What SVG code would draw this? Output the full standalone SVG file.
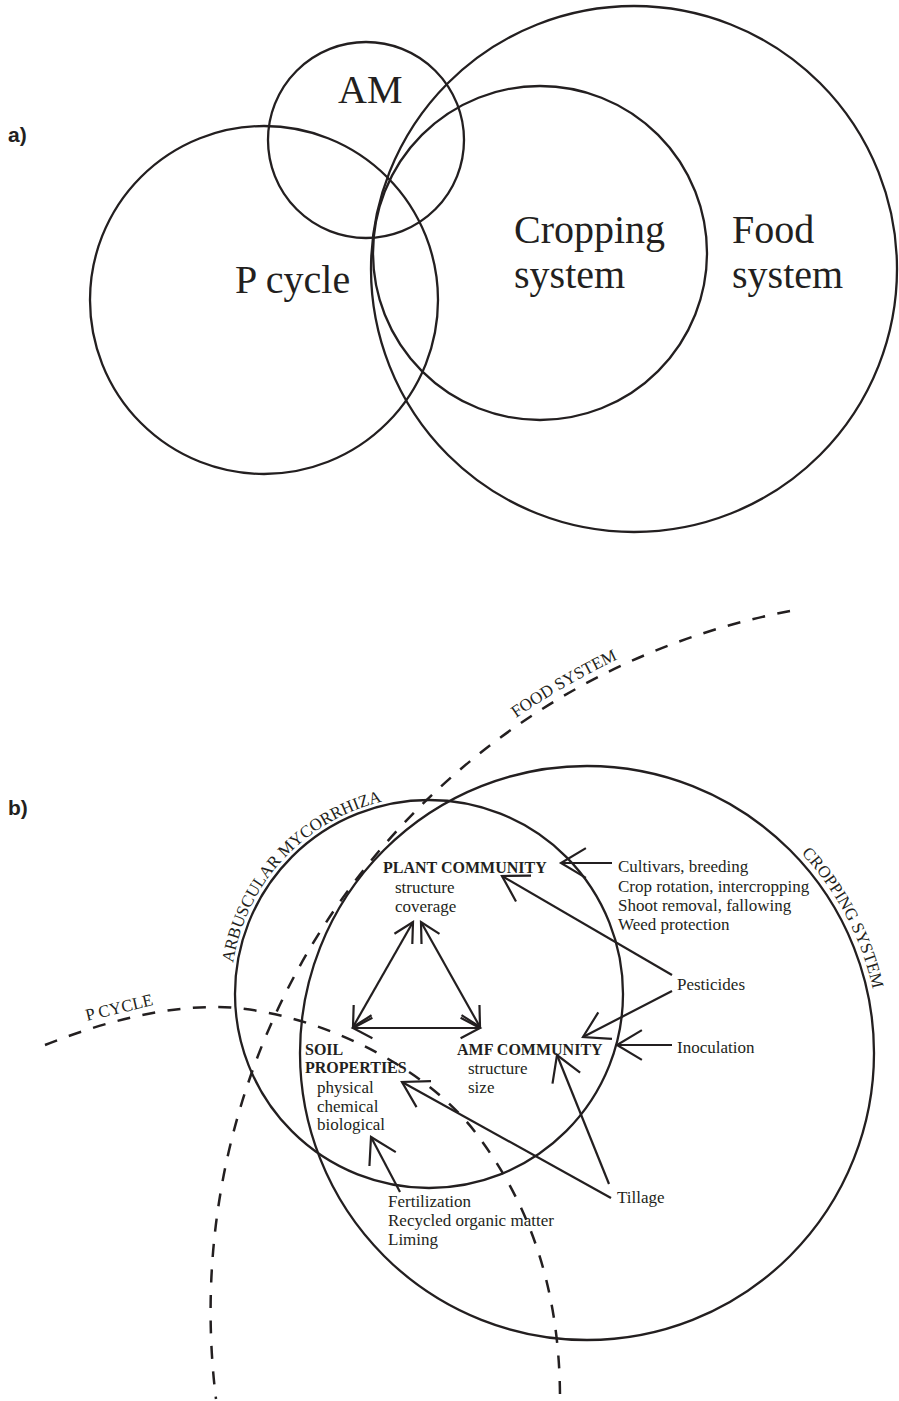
<svg xmlns="http://www.w3.org/2000/svg" width="899" height="1401" viewBox="0 0 899 1401">
<style>
.c{fill:none;stroke:#231f20;stroke-width:2.3}
.d{fill:none;stroke:#231f20;stroke-width:2.5;stroke-dasharray:13 12.5}
.t{font-family:"Liberation Serif","Times New Roman",serif;fill:#231f20}
.big{font-size:40px}
.s{font-size:17px}
.b{font-size:16px;font-weight:bold}
.lab{font-family:"Liberation Sans",Arial,sans-serif;font-weight:bold;font-size:21px;fill:#231f20}
.a{fill:none;stroke:#231f20;stroke-width:2.2}
.tri{marker-start:url(#hs);marker-end:url(#hs)}
.ext{marker-end:url(#hb)}
</style>
<defs>
<marker id="hs" markerUnits="userSpaceOnUse" orient="auto-start-reverse" markerWidth="30" markerHeight="30" refX="0" refY="0" viewBox="-25 -15 30 30" overflow="visible">
<path d="M-19.4,-10.3 L0,0 L-19.4,10.3" fill="none" stroke="#231f20" stroke-width="2.2"/>
</marker>
<marker id="hb" markerUnits="userSpaceOnUse" orient="auto" markerWidth="34" markerHeight="34" refX="0" refY="0" viewBox="-30 -17 34 34" overflow="visible">
<path d="M-24.9,-14.9 L0,0 L-24.9,14.9" fill="none" stroke="#231f20" stroke-width="2.2"/>
</marker>
<path id="pAM" d="M233,963 A198,198 0 0 1 401.4,797.9"/>
<path id="pCS" d="M801.3,853.2 A293,293 0 0 1 877.1,1012.2"/>
<path id="pFS" d="M516,718 A720,720 0 0 1 802,601"/>
</defs>

<!-- Part a -->
<g id="label-a"><text class="lab" x="8" y="142">a)</text></g>
<g id="a-am"><circle class="c" cx="366" cy="140" r="98"/><text class="t big" x="338" y="103">AM</text></g>
<g id="a-pcycle"><circle class="c" cx="264" cy="300" r="174"/><text class="t big" x="235" y="293">P cycle</text></g>
<g id="a-cropping"><circle class="c" cx="540" cy="253" r="167"/><text class="t big" x="514" y="243">Cropping</text><text class="t big" x="514" y="288">system</text></g>
<g id="a-food"><circle class="c" cx="634" cy="269" r="263"/><text class="t big" x="732" y="243">Food</text><text class="t big" x="732" y="288">system</text></g>

<!-- Part b -->
<g id="label-b"><text class="lab" x="8" y="815">b)</text></g>
<g id="b-food"><path class="d" d="M790,611 A713,713 0 0 0 216,1399"/><text class="t s"><textPath href="#pFS">FOOD SYSTEM</textPath></text></g>
<g id="b-pcycle"><path class="d" d="M45,1045 C100,1023 160,1007 215,1007 C300,1007 425,1060 481,1140 C527,1203 560,1285 560,1399"/><text class="t s" transform="translate(87,1021) rotate(-13.5)">P CYCLE</text></g>
<g id="b-am"><circle class="c" cx="429" cy="994" r="194"/><text class="t s"><textPath href="#pAM">ARBUSCULAR MYCORRHIZA</textPath></text></g>
<g id="b-cropping"><circle class="c" cx="587" cy="1053" r="287"/><text class="t s"><textPath href="#pCS">CROPPING SYSTEM</textPath></text></g>

<g id="plant-community"><text class="t b" x="383" y="873">PLANT COMMUNITY</text><text class="t s" x="395" y="893">structure</text><text class="t s" x="395" y="912">coverage</text></g>
<g id="soil-properties"><text class="t b" x="305" y="1055">SOIL</text><text class="t b" x="305" y="1073">PROPERTIES</text><text class="t s" x="317" y="1093">physical</text><text class="t s" x="317" y="1112">chemical</text><text class="t s" x="317" y="1130">biological</text></g>
<g id="amf-community"><text class="t b" x="457" y="1055">AMF COMMUNITY</text><text class="t s" x="468" y="1074">structure</text><text class="t s" x="468" y="1093">size</text></g>
<g id="plant-practices"><text class="t s" x="618" y="872">Cultivars, breeding</text><text class="t s" x="618" y="892">Crop rotation, intercropping</text><text class="t s" x="618" y="911">Shoot removal, fallowing</text><text class="t s" x="618" y="930">Weed protection</text></g>
<g id="pesticides"><text class="t s" x="677" y="990">Pesticides</text></g>
<g id="inoculation"><text class="t s" x="677" y="1053">Inoculation</text></g>
<g id="tillage"><text class="t s" x="617" y="1203">Tillage</text></g>
<g id="soil-practices"><text class="t s" x="388" y="1207">Fertilization</text><text class="t s" x="388" y="1226">Recycled organic matter</text><text class="t s" x="388" y="1245">Liming</text></g>

<g id="connectors">
<line class="a tri" x1="413" y1="922" x2="353" y2="1027"/>
<line class="a tri" x1="421" y1="922" x2="480" y2="1027"/>
<line class="a tri" x1="353" y1="1028" x2="480" y2="1028"/>
<line class="a ext" x1="612" y1="863" x2="561" y2="863"/>
<line class="a ext" x1="672" y1="975" x2="502" y2="876"/>
<line class="a ext" x1="672" y1="991" x2="583" y2="1037"/>
<line class="a ext" x1="672" y1="1045" x2="617" y2="1045"/>
<line class="a ext" x1="609" y1="1184" x2="557" y2="1055"/>
<line class="a ext" x1="611" y1="1198" x2="402" y2="1082"/>
<line class="a ext" x1="400" y1="1192" x2="371" y2="1137"/>
</g>
</svg>
